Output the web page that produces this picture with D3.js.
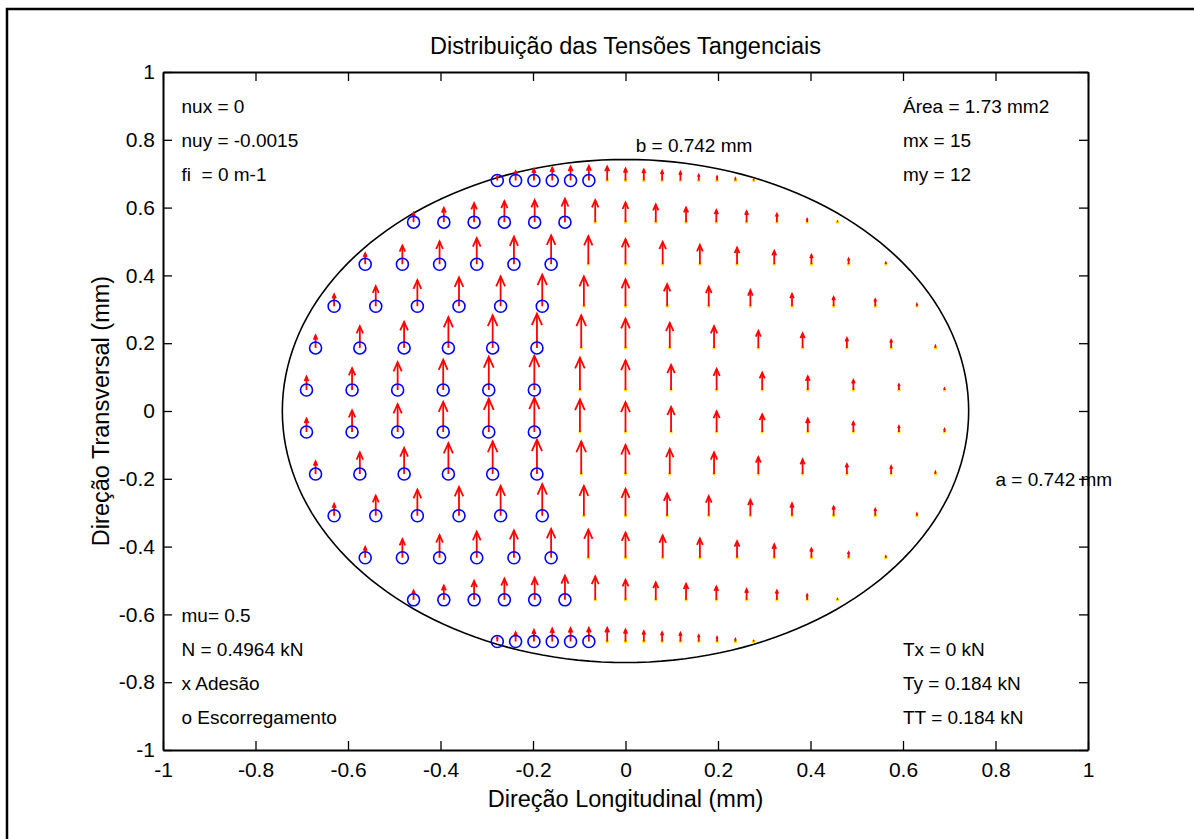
<!DOCTYPE html>
<html>
<head>
<meta charset="utf-8">
<script src="https://cdn.jsdelivr.net/npm/d3@7"></script>
<style>
  body { margin: 0; background: #fff; }
  svg text { font-family: Arial, "Liberation Sans", sans-serif; fill: #000; white-space: pre; }
</style>
</head>
<body>
<div id="chart"></div>
<script>
// contact ellipse and discretisation
const semiA = 0.742;
const semiB = 0.742;
const mx = 15;

// strip centres (y) and strip half widths, top to bottom
const rowY = [0.680, 0.557, 0.433, 0.309, 0.186, 0.062, -0.062, -0.186, -0.309, -0.433, -0.557, -0.680];
const rowHalfWidth = [0.297, 0.491, 0.603, 0.675, 0.718, 0.739, 0.739, 0.718, 0.675, 0.603, 0.491, 0.297];

// number of slip elements (rear side) in each strip
const slipCount = [6, 6, 6, 6, 6, 6, 6, 6, 6, 6, 6, 6];

// tangential stress (y component) drawn as quiver length, one row per strip
const tauY = [
  [0.012, 0.027, 0.034, 0.038, 0.041, 0.043, 0.041, 0.035, 0.032, 0.028, 0.025, 0.016, 0.011, 0.006, 0.001],
  [0.027, 0.042, 0.056, 0.062, 0.065, 0.069, 0.065, 0.058, 0.052, 0.043, 0.035, 0.032, 0.024, 0.009, 0.001],
  [0.032, 0.055, 0.067, 0.077, 0.081, 0.085, 0.083, 0.074, 0.066, 0.057, 0.049, 0.039, 0.027, 0.016, 0.004],
  [0.035, 0.059, 0.077, 0.085, 0.088, 0.093, 0.088, 0.079, 0.065, 0.058, 0.047, 0.036, 0.027, 0.020, 0.006],
  [0.037, 0.064, 0.077, 0.091, 0.096, 0.101, 0.096, 0.086, 0.074, 0.064, 0.050, 0.043, 0.029, 0.023, 0.006],
  [0.039, 0.064, 0.082, 0.089, 0.098, 0.101, 0.095, 0.087, 0.074, 0.062, 0.051, 0.040, 0.029, 0.016, 0.004],
  [0.039, 0.064, 0.082, 0.089, 0.098, 0.101, 0.096, 0.088, 0.074, 0.061, 0.052, 0.039, 0.029, 0.017, 0.008],
  [0.037, 0.064, 0.077, 0.091, 0.096, 0.101, 0.096, 0.086, 0.074, 0.064, 0.050, 0.043, 0.029, 0.023, 0.006],
  [0.035, 0.059, 0.077, 0.085, 0.088, 0.093, 0.088, 0.079, 0.065, 0.058, 0.047, 0.036, 0.027, 0.020, 0.006],
  [0.032, 0.055, 0.067, 0.077, 0.081, 0.085, 0.083, 0.074, 0.066, 0.057, 0.049, 0.039, 0.027, 0.016, 0.004],
  [0.027, 0.042, 0.056, 0.062, 0.065, 0.071, 0.069, 0.059, 0.051, 0.047, 0.039, 0.031, 0.027, 0.015, 0.001],
  [0.012, 0.027, 0.034, 0.038, 0.039, 0.040, 0.040, 0.035, 0.030, 0.027, 0.025, 0.018, 0.013, 0.007, 0.001]
];

const xTicks = [-1, -0.8, -0.6, -0.4, -0.2, 0, 0.2, 0.4, 0.6, 0.8, 1];
const xTickLabels = ["-1", "-0.8", "-0.6", "-0.4", "-0.2", "0", "0.2", "0.4", "0.6", "0.8", "1"];
const yTicks = [-1, -0.8, -0.6, -0.4, -0.2, 0, 0.2, 0.4, 0.6, 0.8, 1];
const yTickLabels = ["-1", "-0.8", "-0.6", "-0.4", "-0.2", "0", "0.2", "0.4", "0.6", "0.8", "1"];

const infoTopLeft = ["nux = 0", "nuy = -0.0015", "fi  = 0 m-1"];
const infoTopRight = ["Área = 1.73 mm2", "mx = 15", "my = 12"];
const infoBottomLeft = ["mu= 0.5", "N = 0.4964 kN", "x Adesão", "o Escorregamento"];
const infoBottomRight = ["Tx = 0 kN", "Ty = 0.184 kN", "TT = 0.184 kN"];

const width = 1194;
const height = 839;
const margin = {left: 163, right: 106, top: 72, bottom: 89};

const svg = d3.select("#chart")
  .append("svg")
  .attr("width", width)
  .attr("height", height);

// figure frame
svg.append("rect")
  .attr("x", 7).attr("y", 9)
  .attr("width", 1300).attr("height", 1000)
  .attr("fill", "none")
  .attr("stroke", "#000")
  .attr("stroke-width", 2.5);

const x = d3.scaleLinear().domain([-1, 1]).range([margin.left, width - margin.right]);
const y = d3.scaleLinear().domain([-1, 1]).range([height - margin.bottom, margin.top]);

// axes, ticks pointing inwards like matlab
function styleAxis(g, fontSize) {
  g.select(".domain").attr("stroke-width", 2);
  g.selectAll(".tick line").attr("stroke-width", 1.3);
  g.selectAll("text")
    .attr("font-size", fontSize)
    .attr("font-family", "Arial, 'Liberation Sans', sans-serif");
}

svg.append("g")
  .attr("transform", "translate(0," + y(-1) + ")")
  .call(d3.axisBottom(x).tickValues(xTicks).tickFormat((d, i) => xTickLabels[i])
    .tickSizeInner(-9).tickSizeOuter(0).tickPadding(12))
  .call(g => styleAxis(g, 21));

svg.append("g")
  .attr("transform", "translate(" + x(-1) + ",0)")
  .call(d3.axisLeft(y).tickValues(yTicks).tickFormat((d, i) => yTickLabels[i])
    .tickSizeInner(-9).tickSizeOuter(0).tickPadding(8))
  .call(g => styleAxis(g, 21));

svg.append("g")
  .attr("transform", "translate(0," + y(1) + ")")
  .call(d3.axisTop(x).tickValues(xTicks).tickFormat("").tickSizeInner(-9).tickSizeOuter(0))
  .call(g => styleAxis(g, 21));

svg.append("g")
  .attr("transform", "translate(" + x(1) + ",0)")
  .call(d3.axisRight(y).tickValues(yTicks).tickFormat("").tickSizeInner(-9).tickSizeOuter(0))
  .call(g => styleAxis(g, 21));

// contact ellipse
const ellipse = d3.range(0, 361, 2).map(t => [semiA * Math.cos(t * Math.PI / 180), semiB * Math.sin(t * Math.PI / 180)]);
svg.append("path")
  .attr("d", d3.line().x(d => x(d[0])).y(d => y(d[1]))(ellipse))
  .attr("fill", "none")
  .attr("stroke", "#000")
  .attr("stroke-width", 1.6);

// grid points with stress
const points = [];
rowY.forEach((yc, r) => {
  const w = rowHalfWidth[r];
  tauY[r].forEach((t, i) => {
    points.push({x: -w + (2 * i + 1) * w / mx, y: yc, t: t, slip: i < slipCount[r]});
  });
});

const marks = svg.append("g");

// adhesion markers
marks.selectAll(".adh")
  .data(points.filter(d => !d.slip))
  .enter()
  .append("rect")
  .attr("x", d => x(d.x) - 1.5)
  .attr("y", d => y(d.y) - 1.5)
  .attr("width", 3).attr("height", 3)
  .attr("fill", "#ffe600");

// quiver arrows
marks.selectAll(".shaft")
  .data(points)
  .enter()
  .append("line")
  .attr("x1", d => x(d.x)).attr("y1", d => y(d.y))
  .attr("x2", d => x(d.x)).attr("y2", d => y(d.y + d.t))
  .attr("stroke", "#ff0000")
  .attr("stroke-width", 1.8);

marks.selectAll(".head")
  .data(points)
  .enter()
  .append("path")
  .attr("d", d => {
    const back = d.y + d.t - 0.33 * d.t;
    const side = 0.33 * 0.33 * d.t;
    return "M" + x(d.x - side) + "," + y(back) + "L" + x(d.x) + "," + y(d.y + d.t) + "L" + x(d.x + side) + "," + y(back);
  })
  .attr("fill", "none")
  .attr("stroke", "#ff0000")
  .attr("stroke-width", 1.8);

// slip markers
marks.selectAll(".slip")
  .data(points.filter(d => d.slip))
  .enter()
  .append("circle")
  .attr("cx", d => x(d.x))
  .attr("cy", d => y(d.y))
  .attr("r", 6)
  .attr("fill", "none")
  .attr("stroke", "#0000ff")
  .attr("stroke-width", 1.6);

// text blocks
function textBlock(lines, x0, y0, step) {
  lines.forEach((s, i) => {
    svg.append("text")
      .attr("x", x(x0))
      .attr("y", y(y0 - i * step))
      .attr("dy", 7.4)
      .attr("font-size", 19)
      .text(s);
  });
}
textBlock(infoTopLeft, -0.96, 0.9, 0.1);
textBlock(infoTopRight, 0.6, 0.9, 0.1);
textBlock(infoBottomLeft, -0.96, -0.6, 0.1);
textBlock(infoBottomRight, 0.6, -0.7, 0.1);
textBlock(["b = " + semiB + " mm"], 0.022, 0.787, 0);
textBlock(["a = " + semiA + " mm"], 0.8, -0.2, 0);

svg.append("text")
  .attr("x", x(0)).attr("y", 54)
  .attr("text-anchor", "middle")
  .attr("font-size", 23.5)
  .text("Distribuição das Tensões Tangenciais");

svg.append("text")
  .attr("x", x(0)).attr("y", 807)
  .attr("text-anchor", "middle")
  .attr("font-size", 23.5)
  .text("Direção Longitudinal (mm)");

svg.append("text")
  .attr("transform", "translate(109," + y(0) + ") rotate(-90)")
  .attr("text-anchor", "middle")
  .attr("font-size", 23.5)
  .text("Direção Transversal (mm)");
</script>
</body>
</html>
